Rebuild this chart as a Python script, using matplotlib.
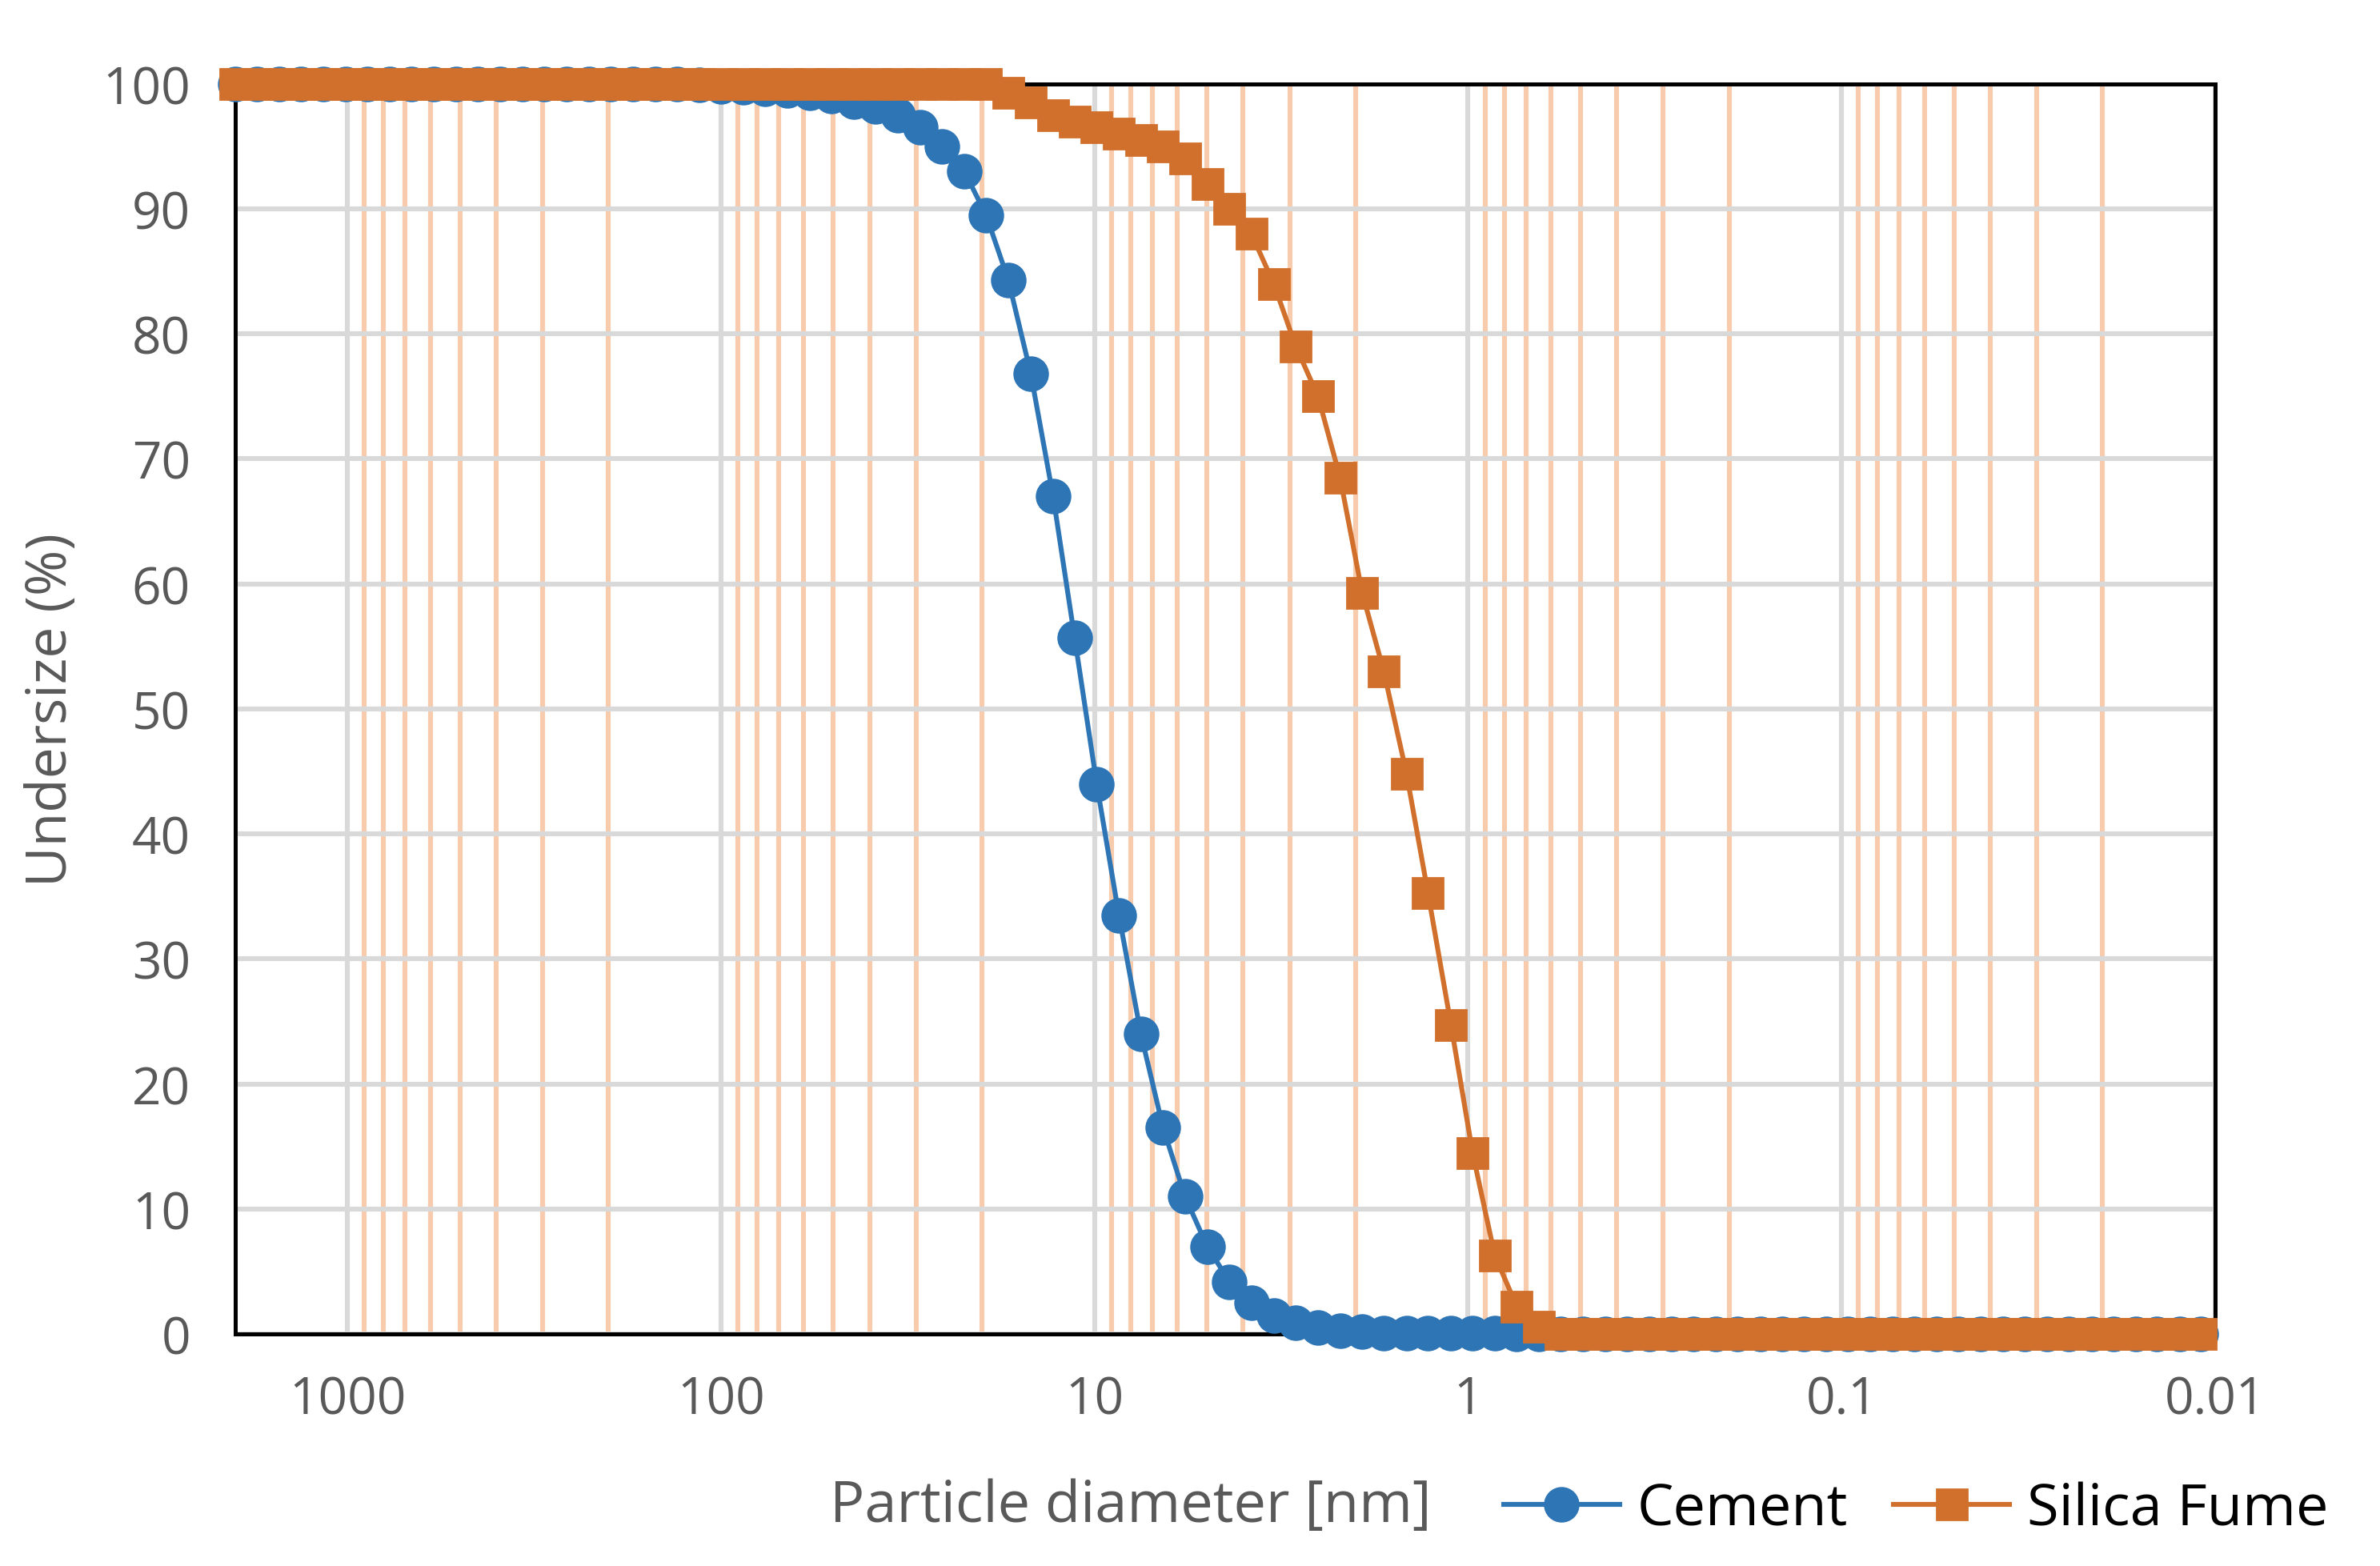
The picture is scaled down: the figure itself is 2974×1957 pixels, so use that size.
import matplotlib
matplotlib.use("Agg")
import matplotlib.pyplot as plt
from matplotlib.ticker import LogLocator, FixedLocator, NullFormatter

plt.rcParams['font.family'] = ['Open Sans', 'DejaVu Sans']

diameter = [2000, 1745, 1523, 1329, 1160, 1012, 883, 771, 673, 587, 512, 447, 390, 340, 297, 259,
            226, 197, 172, 150, 131, 114, 100, 87.2, 76.1, 66.4, 57.9, 50.6, 44.1, 38.5, 33.6, 29.3,
            25.6, 22.3, 19.5, 17.0, 14.8, 12.9, 11.3, 9.86, 8.60, 7.51, 6.55, 5.72, 4.99, 4.35, 3.80,
            3.31, 2.89, 2.52, 2.20, 1.92, 1.68, 1.46, 1.28, 1.11, 0.972, 0.848, 0.740, 0.646, 0.564,
            0.492, 0.429, 0.375, 0.327, 0.285, 0.249, 0.217, 0.190, 0.165, 0.144, 0.126, 0.110,
            0.0960, 0.0838, 0.0731, 0.0638, 0.0557, 0.0486, 0.0424, 0.0370, 0.0323, 0.0282, 0.0246,
            0.0214, 0.0187, 0.0163, 0.0143, 0.0124, 0.0109]

cement = ([100.0] * 21 + [99.9, 99.8, 99.7, 99.6, 99.5, 99.3, 99.0, 98.6, 98.2, 97.5, 96.5, 95.0, 93.0,
          89.5, 84.3, 76.8, 67.0, 55.7, 44.0, 33.5, 24.0, 16.5, 11.0, 7.0, 4.2, 2.5, 1.5, 0.9, 0.5,
          0.3, 0.2, 0.1, 0.05, 0.05, 0.05, 0.05, 0.05, 0.0])
cement = cement + [0.0] * (len(diameter) - len(cement))

silica = ([100.0] * 35 + [99.3, 98.5, 97.5, 97.0, 96.5, 96.0, 95.5, 95.0, 94.0, 92.0, 90.0, 88.0, 84.0,
          79.0, 75.0, 68.5, 59.3, 53.0, 44.8, 35.3, 24.7, 14.5, 6.3, 2.2, 0.6])
silica = silica + [0.0] * (len(diameter) - len(silica))

blue = '#2E75B6'
orange = '#D0702C'
grey = '#595959'

fig = plt.figure(figsize=(14.87, 9.79), dpi=200)
ax = fig.add_axes([0.0987, 0.148, 0.832, 0.798])
ax.set_xscale('log')
ax.set_xlim(2000, 0.01)
ax.set_ylim(0, 100)

ax.xaxis.set_major_locator(FixedLocator([1000, 100, 10, 1, 0.1, 0.01]))
ax.set_xticklabels(['1000', '100', '10', '1', '0.1', '0.01'])
ax.xaxis.set_minor_locator(LogLocator(base=10, subs=range(2, 10), numticks=20))
ax.xaxis.set_minor_formatter(NullFormatter())
ax.set_yticks(range(0, 101, 10))

ax.grid(True, which='major', color='#D9D9D9', linewidth=2.2, zorder=0)
ax.grid(True, which='minor', axis='x', color='#F8CBAD', linewidth=2.2, zorder=0)
ax.set_axisbelow(True)

ax.plot(diameter, cement, color=blue, marker='o', markersize=15, linewidth=2.2, label='Cement', zorder=3, clip_on=False)
ax.plot(diameter, silica, color=orange, marker='s', markersize=14, linewidth=2.2, label='Silica Fume', zorder=4, clip_on=False)

for s in ax.spines.values():
    s.set_color('black')
    s.set_linewidth(1.8)
ax.tick_params(which='both', length=0, labelsize=23, labelcolor=grey, pad=18)
ax.tick_params(axis='y', pad=20)
ax.set_ylabel('Undersize (%)', fontsize=25, color=grey, labelpad=10)

fig.text(0.475, 0.038, 'Particle diameter [nm]', fontsize=26, color=grey, ha='center', va='center')
fig.legend(loc='center', bbox_to_anchor=(0.805, 0.036), ncol=2, frameon=False, fontsize=26,
           handlelength=2.0, columnspacing=0.8, handletextpad=0.3)

fig.savefig('out.png', dpi=200)
